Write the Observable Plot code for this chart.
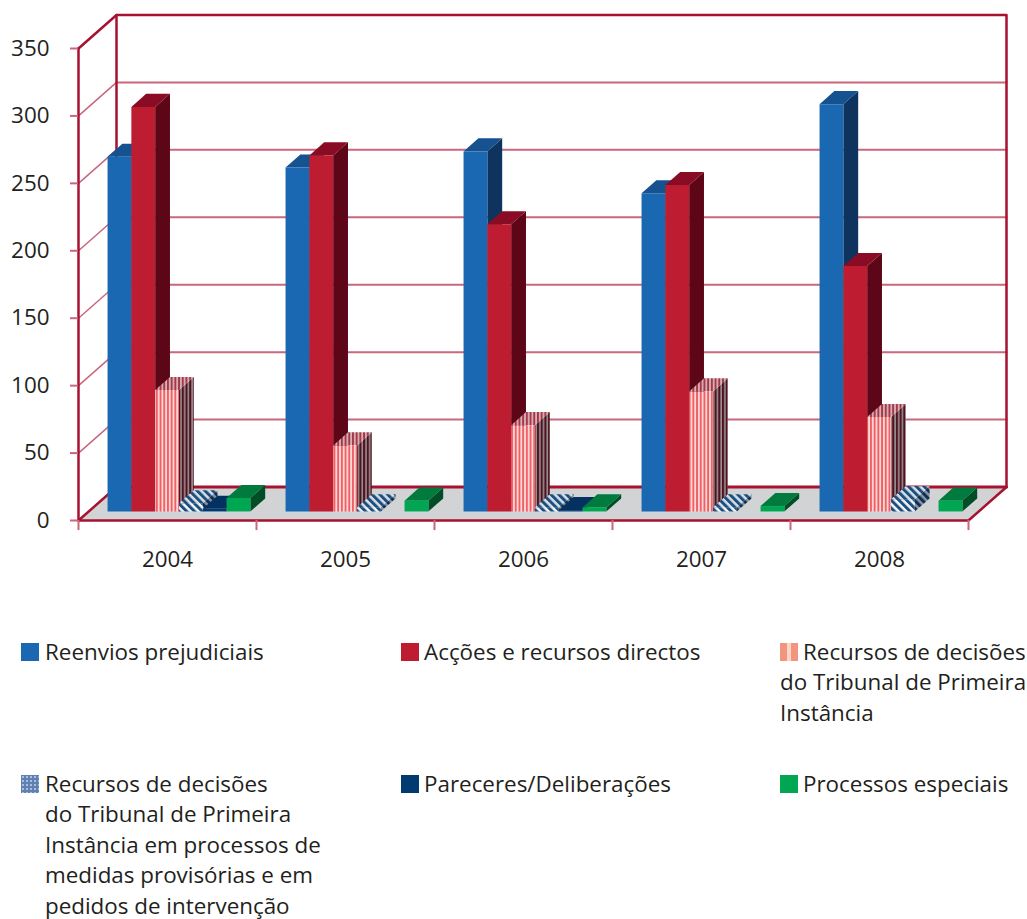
<!DOCTYPE html>
<html>
<head>
<meta charset="utf-8">
<script src="https://cdn.jsdelivr.net/npm/d3@7"></script>
<script src="https://cdn.jsdelivr.net/npm/@observablehq/plot@0.6"></script>
<style>
  html, body { margin: 0; padding: 0; background: #fff; }
  #page { position: relative; width: 1027px; height: 919px; overflow: hidden; font-family: "Open Sans", sans-serif; color: #231f20; }
  #page svg.plot { position: absolute; left: 0; top: 0; }
  .key { position: absolute; font-size: 22.4px; line-height: 28px; white-space: nowrap; }
  .swatch { position: absolute; width: 18px; height: 18px; }
</style>
</head>
<body>
<div id="page"></div>
<script>
// Annual case counts per procedure type
const years = ["2004", "2005", "2006", "2007", "2008"];
const reenvios = [263, 255, 267, 236, 302];
const accoes = [300, 264, 213, 242, 182];
const recursos = [90, 49, 64, 89, 70];
const medidas = [6, 3, 3, 3, 9];
const pareceres = [2, 0, 1, 0, 0];
const especiais = [10, 8, 3, 4, 8];

const seriesNames = [
  "Reenvios prejudiciais",
  "Acções e recursos directos",
  "Recursos de decisões\ndo Tribunal de Primeira\nInstância",
  "Recursos de decisões\ndo Tribunal de Primeira\nInstância em processos de\nmedidas provisórias e em\npedidos de intervenção",
  "Pareceres/Deliberações",
  "Processos especiais"
];
const seriesValues = [reenvios, accoes, recursos, medidas, pareceres, especiais];
const yTicks = [0, 50, 100, 150, 200, 250, 300, 350];

// Fill of each series: front, top and side faces
const faces = [
  {front: "#1a67b2", top: "#15528f", side: "#0f335f"},
  {front: "#be1c30", top: "#8a0b24", side: "#5c0617"},
  {front: "url(#stripeFront)", top: "url(#stripeTop)", side: "url(#stripeSide)"},
  {front: "url(#hatchFront)", top: "url(#hatchTop)", side: "url(#hatchSide)"},
  {front: "#003a70", top: "#04315f", side: "#022548"},
  {front: "#00a651", top: "#007a3d", side: "#004d26"}
];

// Oblique projection: a point is (category position, value, depth 0..1),
// depth shifts it along x and y by a fixed skew expressed in scale units.
const skewX = 38 / 178;
const skewY = 33.5 / (472 / 350);
const px = (c, d) => c + d * skewX;
const py = (v, d) => v + d * skewY;
const P = (id, pts) => pts.map(([c, v, d]) => ({id, x: px(c, d), y: py(v, d)}));

const barStart = 0.1056, barWidth = 0.1337, depthFront = 0.27, depthBack = 0.66;

function barFaces(s, i) {
  const x0 = i + barStart + s * barWidth, x1 = x0 + barWidth;
  const v = seriesValues[s][i];
  const f = depthFront, b = depthBack;
  return {
    front: P(`f${i}`, [[x0, 0, f], [x1, 0, f], [x1, v, f], [x0, v, f]]),
    top: P(`t${i}`, [[x0, v, f], [x1, v, f], [x1, v, b], [x0, v, b]]),
    side: P(`s${i}`, [[x1, 0, f], [x1, 0, b], [x1, v, b], [x1, v, f]])
  };
}

function barMarks(s) {
  const idx = years.map((_, i) => i).filter(i => seriesValues[s][i] > 0);
  const all = idx.map(i => barFaces(s, i));
  return ["side", "top", "front"].map(k =>
    Plot.line(all.flatMap(a => a[k]), {x: "x", y: "y", z: "id", fill: faces[s][k], stroke: "none", curve: "linear"})
  );
}

// Chart frame
const wall = "#a6122f", grid = "#c9677c";
const nCat = years.length;
const floor = P("floor", [[0, 0, 0], [nCat, 0, 0], [nCat, 0, 1], [0, 0, 1]]);
const gridData = yTicks.slice(1, -1);
const backGrid = gridData.flatMap(v => P(v, [[0, v, 1], [nCat, v, 1]]));
const sideGrid = gridData.flatMap(v => P(v, [[0, v, 0], [0, v, 1]]));
const seg = pts => P("e", pts);

// SVG patterns for the striped and hatched series
function patterns() {
  const ns = "http://www.w3.org/2000/svg";
  const defs = document.createElementNS(ns, "defs");
  const stripes = (id, w, bg, fg, fw, extra) => {
    defs.insertAdjacentHTML("beforeend",
      `<pattern id="${id}" patternUnits="userSpaceOnUse" width="${w}" height="8" ${extra || ""}>
        <rect width="${w}" height="8" fill="${bg}"/><rect width="${fw}" height="8" fill="${fg}"/></pattern>`);
  };
  stripes("stripeFront", 3.7, "#ffd9d6", "#ee5f66", 1.9);
  stripes("stripeTop", 3.7, "#d9b0b4", "#a2384a", 1.9);
  stripes("stripeSide", 3.7, "#9b8f92", "#4e1320", 2.1);
  stripes("hatchFront", 5.5, "#f4f7fa", "#1c4f80", 3, `patternTransform="rotate(-45)"`);
  stripes("hatchTop", 5.5, "#d9e0e8", "#1c4f80", 3, `patternTransform="rotate(-45)"`);
  stripes("hatchSide", 5.5, "#8c96a3", "#0e2f52", 3, `patternTransform="rotate(-45)"`);
  return defs;
}

const chart = Plot.plot({
  width: 1027,
  height: 570,
  marginLeft: 78,
  marginRight: 59,
  marginTop: 48,
  marginBottom: 50,
  style: {background: "transparent", fontFamily: "'Open Sans', sans-serif", fontSize: "22.4px", color: "#231f20", overflow: "visible"},
  x: {domain: [0, nCat], axis: null},
  y: {domain: [0, 350], axis: null},
  marks: [
    patterns,
    Plot.line(floor, {x: "x", y: "y", z: "id", fill: "#d1d3d4", stroke: "none"}),
    // Back wall and left wall grid
    Plot.line(backGrid, {x: "x", y: "y", z: "id", stroke: grid, strokeWidth: 2}),
    Plot.line(sideGrid, {x: "x", y: "y", z: "id", stroke: grid, strokeWidth: 1.5}),
    // Wall outline; the floor's left edge passes behind the first bars
    Plot.line(seg([[0, 0, 1], [0, 350, 1], [nCat, 350, 1], [nCat, 0, 1]]), {x: "x", y: "y", stroke: wall, strokeWidth: 2.5}),
    Plot.line(seg([[0, 350, 0], [0, 350, 1]]), {x: "x", y: "y", stroke: wall, strokeWidth: 2.5}),
    Plot.line(seg([[0, 0, 1], [nCat, 0, 1]]), {x: "x", y: "y", stroke: wall, strokeWidth: 3}),
    Plot.line(seg([[0, 0, 1], [0, 0, 0]]), {x: "x", y: "y", stroke: wall, strokeWidth: 2.5}),
    ...seriesValues.flatMap((_, s) => barMarks(s)),
    // Floor outline in front of the bars
    Plot.line(seg([[0, 0, 0], [nCat, 0, 0], [nCat, 0, 1]]), {x: "x", y: "y", stroke: wall, strokeWidth: 2.5}),
    Plot.line(seg([[0, 0, 0], [0, 350, 0]]), {x: "x", y: "y", stroke: wall, strokeWidth: 2.5}),
    Plot.axisY({ticks: yTicks, tickSize: 8, tickPadding: 21, stroke: grid, strokeWidth: 2, fill: "#231f20", fontSize: 22.4, label: null, anchor: "left"}),
    Plot.ruleX(d3.range(nCat + 1), {x: d => d, y1: () => -7.5, y2: () => 0, stroke: grid, strokeWidth: 2}),
    Plot.text(years, {x: (d, i) => i + 0.5, y: () => -29, text: d => d, fill: "#231f20", fontSize: 22.4})
  ]
});
chart.classList.add("plot");
const page = document.getElementById("page");
page.appendChild(chart);

// Legend below the chart, two rows of three columns
const colX = [21, 401, 780];
const lineStep = 30.4;
const keyLayout = [
  {col: 0, top: 636, text: 45},
  {col: 1, top: 636, text: 424},
  {col: 2, top: 636, text: 803},
  {col: 0, top: 768, text: 45},
  {col: 1, top: 768, text: 424},
  {col: 2, top: 768, text: 803}
];
const swatchFill = [
  "#1a67b2",
  "#be1c30",
  "linear-gradient(90deg,#f2957f 0 38%,#fbd5c8 38% 62%,#f2957f 62%)",
  "radial-gradient(circle at 50% 50%,#c6d3e4 0 22%,#5f80b2 34%) 0 0/4px 4px",
  "#003a70",
  "#00a651"
];
seriesNames.forEach((name, s) => {
  const k = keyLayout[s];
  const sw = document.createElement("div");
  sw.className = "swatch";
  sw.style.left = colX[k.col] + "px";
  sw.style.top = (k.top + 7) + "px";
  sw.style.background = swatchFill[s];
  page.appendChild(sw);
  name.split("\n").forEach((line, n) => {
    const el = document.createElement("div");
    el.className = "key";
    // Continuation lines of the right column return to the swatch edge
    el.style.left = (n > 0 && k.col === 2 ? colX[2] : k.text) + "px";
    el.style.top = (k.top + 2 + n * lineStep) + "px";
    el.textContent = line;
    page.appendChild(el);
  });
});
</script>
</body>
</html>
